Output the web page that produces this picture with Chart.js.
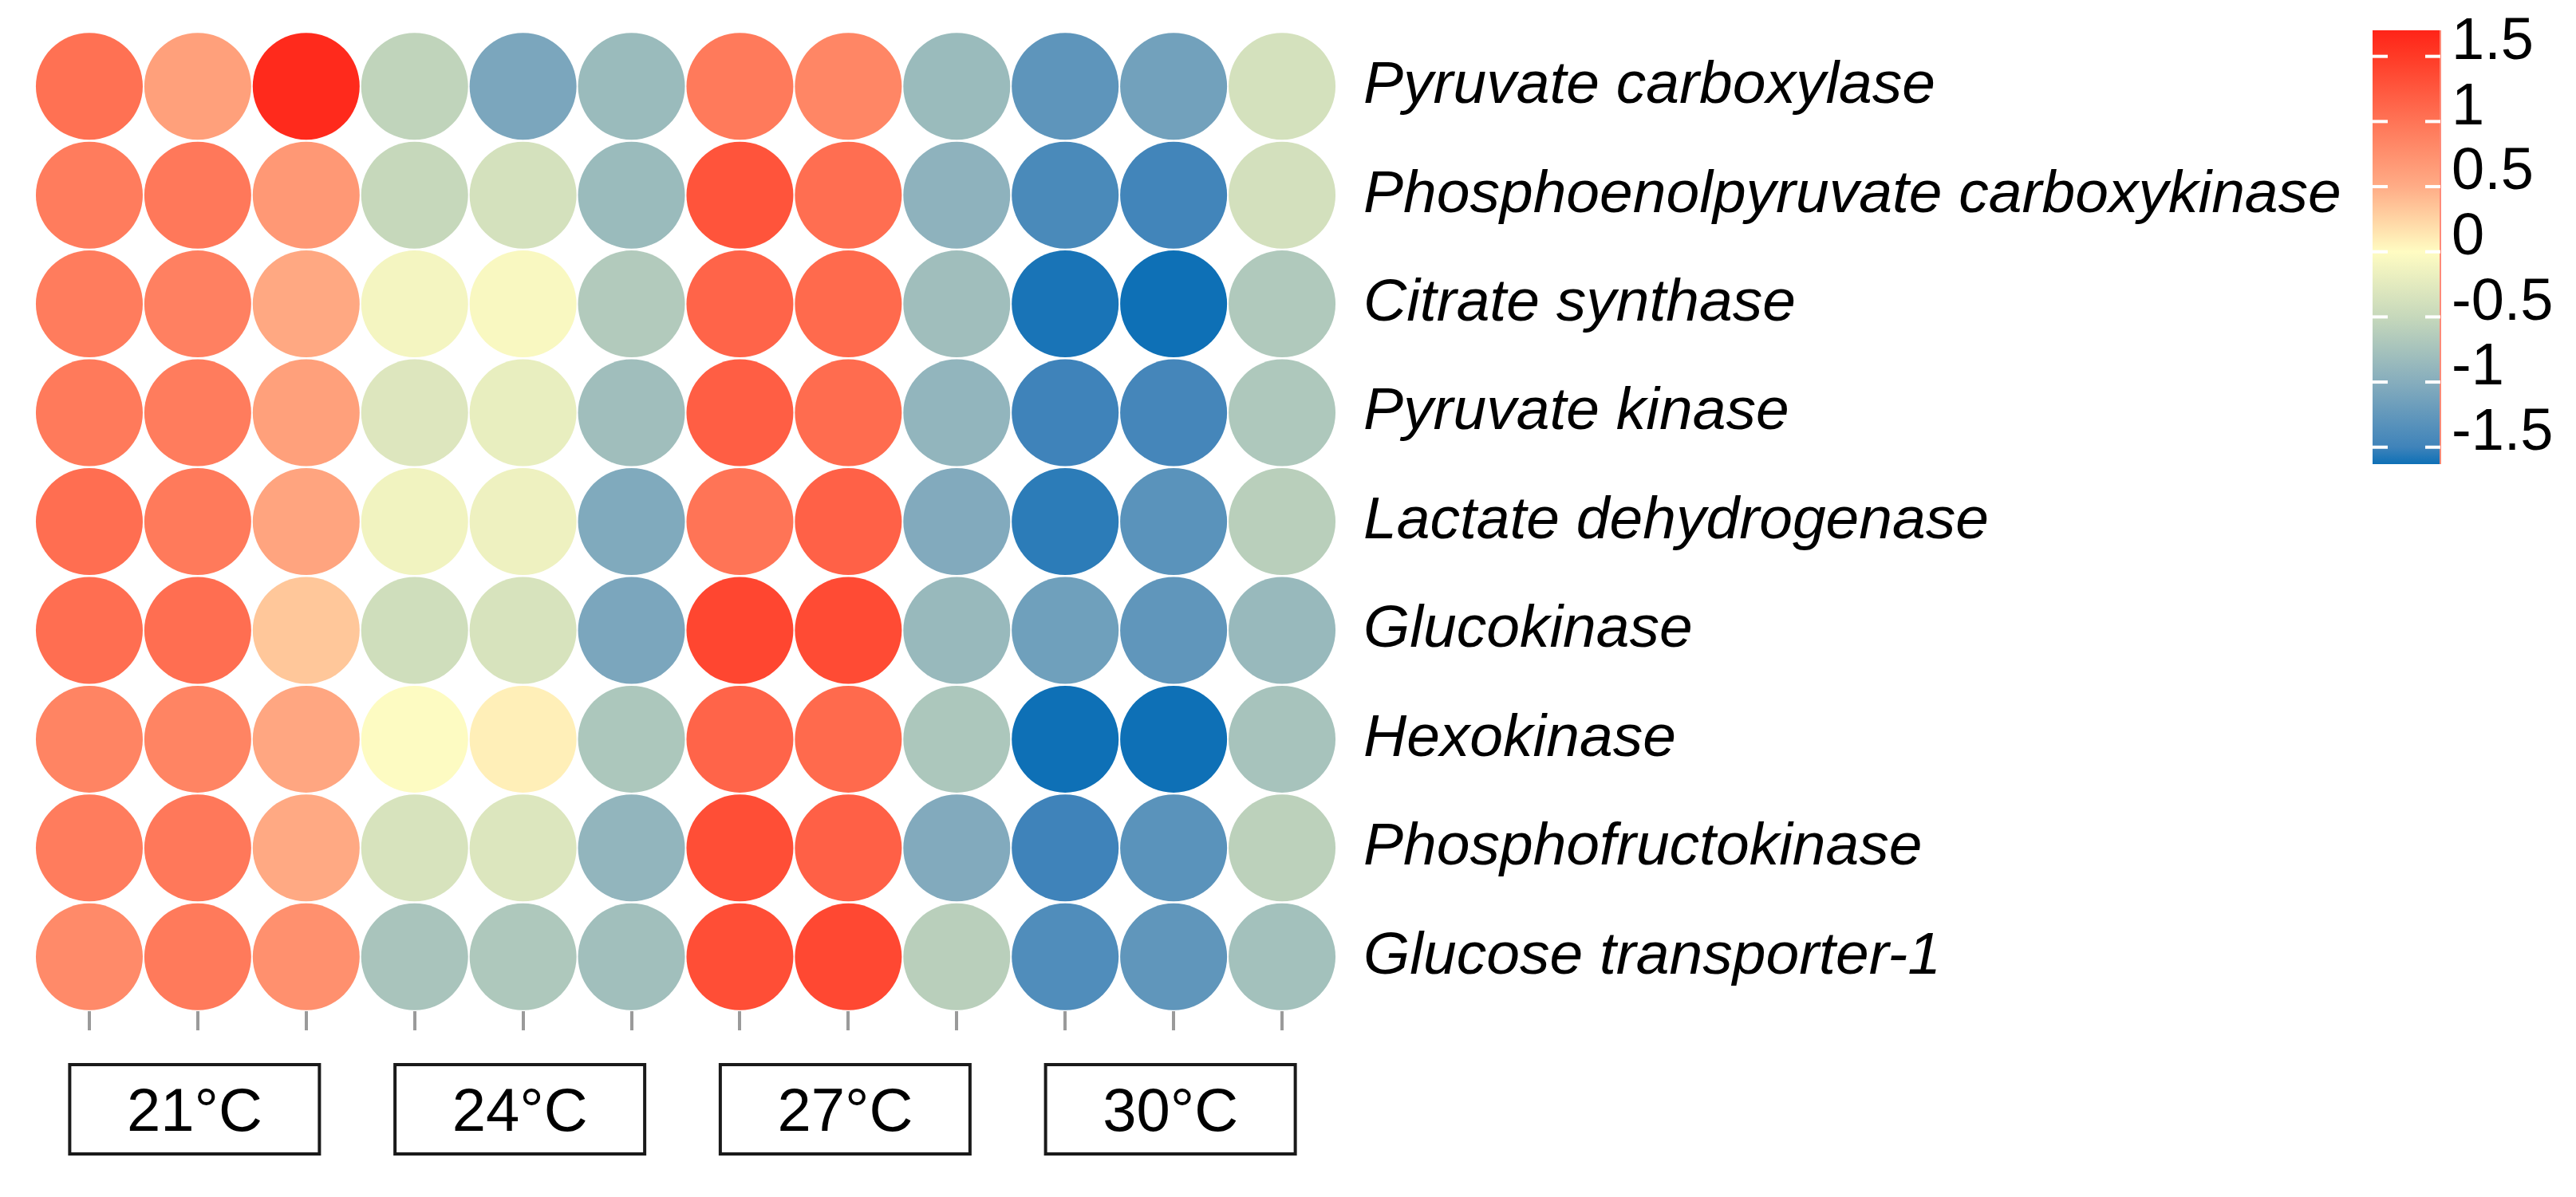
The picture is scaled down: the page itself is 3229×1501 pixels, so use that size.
<!DOCTYPE html>
<html>
<head>
<meta charset="utf-8">
<script src="https://cdn.jsdelivr.net/npm/chart.js@4.4.1/dist/chart.umd.min.js"></script>
<style>
  html, body { margin: 0; padding: 0; background: #ffffff; }
  #wrap { width: 3229px; height: 1501px; }
</style>
</head>
<body>
<div id="wrap"><canvas id="heat" width="3229" height="1501"></canvas></div>
<script>
// Genes shown as rows, top to bottom
const genes = [
  'Pyruvate carboxylase',
  'Phosphoenolpyruvate carboxykinase',
  'Citrate synthase',
  'Pyruvate kinase',
  'Lactate dehydrogenase',
  'Glucokinase',
  'Hexokinase',
  'Phosphofructokinase',
  'Glucose transporter-1'
];

// Temperature groups, three replicate columns each
const groups = ['21°C', '24°C', '27°C', '30°C'];
const replicates = 3;
const columns = [1, 2, 3, 4, 5, 6, 7, 8, 9, 10, 11, 12];

// Row-scaled expression (z-score), one value per column
const pyruvateCarboxylase = [1.03, 0.61, 1.65, -0.55, -1.08, -0.84, 0.95, 0.84, -0.84, -1.28, -1.14, -0.38];
const pepck               = [0.93, 0.96, 0.68, -0.50, -0.38, -0.84, 1.28, 1.05, -0.94, -1.42, -1.48, -0.39];
const citrateSynthase     = [0.93, 0.89, 0.54, -0.10, -0.05, -0.66, 1.14, 1.09, -0.80, -1.60, -1.64, -0.67];
const pyruvateKinase      = [0.95, 0.93, 0.61, -0.30, -0.20, -0.80, 1.19, 1.07, -0.91, -1.50, -1.46, -0.69];
const lactateDH           = [1.05, 0.95, 0.57, -0.12, -0.15, -1.04, 1.00, 1.16, -1.03, -1.55, -1.31, -0.60];
const glucokinase         = [1.05, 1.05, 0.33, -0.42, -0.35, -1.08, 1.40, 1.35, -0.86, -1.16, -1.27, -0.86];
const hexokinase          = [0.86, 0.86, 0.55, -0.02, 0.08, -0.70, 1.14, 1.09, -0.70, -1.65, -1.65, -0.74];
const phosphofructokinase = [0.93, 0.96, 0.53, -0.35, -0.31, -0.91, 1.33, 1.17, -1.03, -1.50, -1.31, -0.58];
const glut1               = [0.80, 0.95, 0.75, -0.73, -0.69, -0.79, 1.33, 1.38, -0.60, -1.38, -1.27, -0.77];

const rows = [pyruvateCarboxylase, pepck, citrateSynthase, pyruvateKinase, lactateDH,
              glucokinase, hexokinase, phosphofructokinase, glut1];

// Color key
const keyTicks = [1.5, 1, 0.5, 0, -0.5, -1, -1.5];
const keyMin = -1.63;
const keyMax = 1.70;

// Blue - pale yellow - red palette, [value, [r, g, b]]
const paletteStops = [
  [-1.63, [14, 112, 182]],
  [-1.5,  [63, 131, 186]],
  [-1.0,  [134, 173, 189]],
  [-0.5,  [198, 216, 187]],
  [0.0,   [255, 252, 194]],
  [0.5,   [255, 172, 134]],
  [1.0,   [255, 116, 86]],
  [1.5,   [255, 58, 38]],
  [1.70,  [255, 36, 24]]
];

function colorFor(v) {
  const s = paletteStops;
  if (v <= s[0][0]) return 'rgb(' + s[0][1].join(',') + ')';
  for (let i = 1; i < s.length; i++) {
    if (v <= s[i][0]) {
      const t = (v - s[i - 1][0]) / (s[i][0] - s[i - 1][0]);
      const a = s[i - 1][1], b = s[i][1];
      const c = a.map((av, k) => Math.round(av + (b[k] - av) * t));
      return 'rgb(' + c.join(',') + ')';
    }
  }
  return 'rgb(' + s[s.length - 1][1].join(',') + ')';
}

const points = [];
rows.forEach((vals, r) => {
  vals.forEach((v, c) => points.push({ x: columns[c], y: genes[r], v: v }));
});

const FONT = "'Liberation Sans', Arial, Helvetica, sans-serif";

// Boxed temperature labels under each group of replicate columns
const groupBoxes = {
  id: 'groupBoxes',
  afterDraw(chart) {
    const ctx = chart.ctx;
    const xs = chart.scales.x;
    const top = chart.chartArea.bottom + 67;
    const w = 313, h = 112;
    ctx.save();
    groups.forEach((g, i) => {
      const mid = columns[i * replicates + Math.floor(replicates / 2)];
      const cx = xs.getPixelForValue(mid) - 4;
      ctx.lineWidth = 4;
      ctx.strokeStyle = '#1a1a1a';
      ctx.strokeRect(cx - w / 2, top, w, h);
      ctx.fillStyle = '#000';
      ctx.font = '76px ' + FONT;
      ctx.textAlign = 'center';
      ctx.textBaseline = 'middle';
      ctx.fillText(g, cx, top + h / 2 + 6);
    });
    ctx.restore();
  }
};

// Vertical color key on the right
const colorKey = {
  id: 'colorKey',
  afterDraw(chart) {
    const ctx = chart.ctx;
    const x0 = 2974, x1 = 3059;
    const yTop = 38, yBot = 582;
    const yOf = v => yTop + (keyMax - v) / (keyMax - keyMin) * (yBot - yTop);
    ctx.save();
    const grad = ctx.createLinearGradient(0, yTop, 0, yBot);
    paletteStops.forEach(([v]) => {
      const p = (keyMax - v) / (keyMax - keyMin);
      grad.addColorStop(Math.min(1, Math.max(0, p)), colorFor(v));
    });
    ctx.fillStyle = grad;
    ctx.fillRect(x0, yTop, x1 - x0, yBot - yTop);
    ctx.strokeStyle = '#ff8a78';
    ctx.lineWidth = 2;
    ctx.beginPath();
    ctx.moveTo(x1, yTop);
    ctx.lineTo(x1, yBot);
    ctx.stroke();
    ctx.fillStyle = '#ffffff';
    keyTicks.forEach(v => {
      const y = yOf(v);
      ctx.fillRect(x0, y - 2, 19, 4);
      ctx.fillRect(x1 - 19, y - 2, 19, 4);
    });
    ctx.fillStyle = '#000';
    ctx.font = '74px ' + FONT;
    ctx.textAlign = 'left';
    ctx.textBaseline = 'middle';
    keyTicks.forEach(v => {
      ctx.fillText(String(v), 3073, yOf(v) - 17);
    });
    ctx.restore();
  }
};

new Chart(document.getElementById('heat'), {
  type: 'scatter',
  data: {
    datasets: [{
      data: points,
      pointRadius: 67,
      pointHoverRadius: 67,
      pointBorderWidth: 0,
      borderWidth: 0,
      backgroundColor: c => colorFor(c.raw ? c.raw.v : 0),
      pointBackgroundColor: c => colorFor(c.raw ? c.raw.v : 0)
    }]
  },
  options: {
    responsive: false,
    devicePixelRatio: 1,
    animation: false,
    events: [],
    layout: { autoPadding: false, padding: { left: 44, top: 40, right: 0, bottom: 0 } },
    plugins: { legend: { display: false }, tooltip: { enabled: false } },
    scales: {
      x: {
        type: 'linear',
        min: 0.5,
        max: 12.5,
        afterBuildTicks(s) { s.ticks = columns.map(v => ({ value: v })); },
        afterFit(s) { s.height = 233; s.paddingLeft = 0; s.paddingRight = 0; },
        ticks: { autoSkip: false, callback: () => '' },
        grid: { drawOnChartArea: false, drawTicks: true, tickLength: 24, color: '#9a9a9a', lineWidth: 4 },
        border: { display: false }
      },
      y: {
        type: 'category',
        labels: genes,
        position: 'right',
        offset: true,
        afterFit(s) { s.width = 1554; s.paddingTop = 0; s.paddingBottom = 0; },
        grid: { display: false, drawTicks: false },
        border: { display: false },
        ticks: {
          autoSkip: false,
          padding: 34,
          color: '#000',
          font: { family: FONT, style: 'italic', size: 75 }
        }
      }
    }
  },
  plugins: [groupBoxes, colorKey]
});
</script>
</body>
</html>
